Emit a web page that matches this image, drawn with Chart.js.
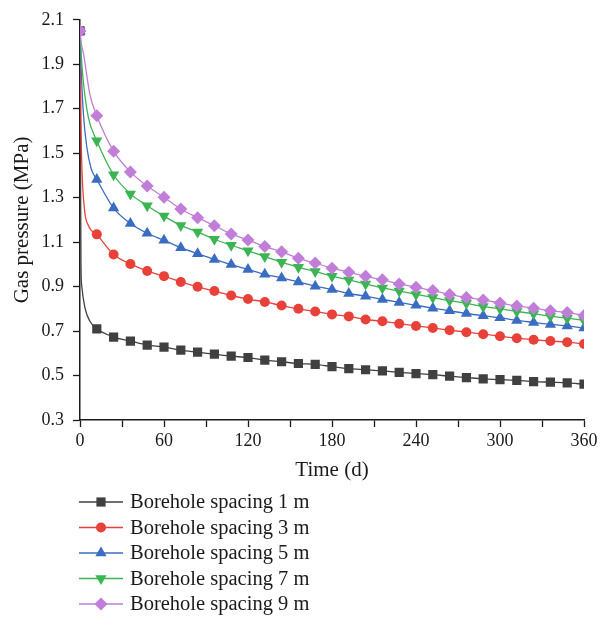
<!DOCTYPE html>
<html>
<head>
<meta charset="utf-8">
<script src="https://cdn.jsdelivr.net/npm/chart.js@4/dist/chart.umd.min.js"></script>
<style>
  html, body { margin: 0; padding: 0; background: #fff; }
  #wrap { width: 610px; height: 625px; }
</style>
</head>
<body>
<div id="wrap"><canvas id="pressureChart" width="610" height="625"></canvas></div>
<script>
// sampling days (markers every 12 d)
const days = [0, 12, 24, 36, 48, 60, 72, 84, 96, 108, 120, 132, 144, 156, 168, 180,
              192, 204, 216, 228, 240, 252, 264, 276, 288, 300, 312, 324, 336, 348, 360];

// gas pressure (MPa) per borehole spacing
const spacing1 = [2.05, 0.710, 0.673, 0.655, 0.637, 0.628, 0.614, 0.605, 0.596, 0.587, 0.581,
                  0.569, 0.562, 0.554, 0.550, 0.540, 0.531, 0.526, 0.521, 0.514, 0.509,
                  0.504, 0.497, 0.491, 0.485, 0.482, 0.478, 0.473, 0.470, 0.467, 0.461];
const spacing3 = [2.05, 1.135, 1.044, 1.002, 0.970, 0.947, 0.921, 0.899, 0.880, 0.860, 0.844,
                  0.831, 0.815, 0.800, 0.788, 0.775, 0.766, 0.752, 0.744, 0.733, 0.723,
                  0.714, 0.704, 0.695, 0.686, 0.677, 0.668, 0.661, 0.655, 0.650, 0.642];
const spacing5 = [2.05, 1.382, 1.253, 1.184, 1.140, 1.108, 1.075, 1.048, 1.022, 0.999, 0.977,
                  0.955, 0.939, 0.921, 0.902, 0.887, 0.869, 0.857, 0.842, 0.829, 0.816,
                  0.803, 0.791, 0.779, 0.769, 0.760, 0.748, 0.739, 0.730, 0.723, 0.714];
const spacing7 = [2.05, 1.556, 1.403, 1.317, 1.264, 1.217, 1.175, 1.146, 1.113, 1.086, 1.061,
                  1.035, 1.010, 0.987, 0.968, 0.947, 0.930, 0.912, 0.894, 0.880, 0.865,
                  0.851, 0.837, 0.825, 0.810, 0.800, 0.788, 0.778, 0.767, 0.758, 0.748];
const spacing9 = [2.05, 1.668, 1.509, 1.416, 1.352, 1.302, 1.249, 1.210, 1.174, 1.137, 1.110,
                  1.080, 1.057, 1.027, 1.006, 0.983, 0.965, 0.946, 0.931, 0.912, 0.897,
                  0.882, 0.865, 0.851, 0.840, 0.826, 0.813, 0.803, 0.791, 0.783, 0.770];

// extra curve points in the first days (no marker drawn)
const earlyDays1 = [0.7, 1.2, 3.6, 7.1];
const early1 = [0.996, 0.906, 0.803, 0.744];
const earlyDays3 = [0.5, 1, 3, 6];
const early3 = [1.75, 1.52, 1.26, 1.175];
const earlyDays5 = [1, 2.4, 4.8, 8];
const early5 = [1.85, 1.68, 1.53, 1.43];
const earlyDays7 = [1, 2.4, 6];
const early7 = [1.93, 1.82, 1.66];
const earlyDays9 = [1.2, 2.4, 7.1];
const early9 = [1.985, 1.95, 1.763];

const labels = ['Borehole spacing 1 m', 'Borehole spacing 3 m', 'Borehole spacing 5 m',
                'Borehole spacing 7 m', 'Borehole spacing 9 m'];

const SERIF = '"Liberation Serif", "DejaVu Serif", serif';

function buildPoints(values, eDays, eValues) {
    const pts = days.map((d, i) => ({ x: d, y: values[i], mark: true }));
    eDays.forEach((d, i) => pts.push({ x: d, y: eValues[i], mark: false }));
    return pts.sort((a, b) => a.x - b.x);
}

function series(label, values, eDays, eValues, color, style, radius, rotation, order) {
    return {
        label: label,
        data: buildPoints(values, eDays, eValues),
        order: order,
        borderColor: color,
        backgroundColor: color,
        pointBackgroundColor: color,
        pointBorderWidth: 0,
        borderWidth: 1.3,
        pointStyle: style,
        pointRotation: rotation || 0,
        pointRadius: ctx => (ctx.raw && ctx.raw.mark ? radius : 0),
        legendRadius: radius,
        cubicInterpolationMode: 'monotone'
    };
}

// hand-drawn legend below the plot: line + marker + label per row
const rowLegend = {
    id: 'rowLegend',
    afterDraw(chart) {
        const ctx = chart.ctx;
        ctx.save();
        chart.data.datasets.forEach((ds, i) => {
            const y = 502 + i * 25.5;
            ctx.strokeStyle = ds.borderColor;
            ctx.lineWidth = 1.3;
            ctx.beginPath();
            ctx.moveTo(79, y);
            ctx.lineTo(123, y);
            ctx.stroke();
            ctx.fillStyle = ds.pointBackgroundColor;
            Chart.helpers.drawPoint(ctx, {
                pointStyle: ds.pointStyle,
                rotation: ds.pointRotation,
                radius: ds.legendRadius,
                borderWidth: 0
            }, 101, y);
            ctx.fillStyle = '#1a1a1a';
            ctx.font = '20.5px ' + SERIF;
            ctx.textBaseline = 'middle';
            ctx.textAlign = 'left';
            ctx.fillText(ds.label, 130, y + 1);
        });
        ctx.restore();
    }
};

const chart = new Chart(document.getElementById('pressureChart').getContext('2d'), {
    type: 'line',
    data: {
        datasets: [
            series(labels[0], spacing1, earlyDays1, early1, '#404040', 'rect', 6.5, 0, 5),
            series(labels[1], spacing3, earlyDays3, early3, '#e8413a', 'circle', 5, 0, 4),
            series(labels[2], spacing5, earlyDays5, early5, '#3a6cc2', 'triangle', 6.5, 0, 3),
            series(labels[3], spacing7, earlyDays7, early7, '#3bb552', 'triangle', 6.5, 180, 2),
            series(labels[4], spacing9, earlyDays9, early9, '#c07ed8', 'rectRot', 6.5, 0, 1)
        ]
    },
    options: {
        responsive: false,
        devicePixelRatio: 1,
        animation: false,
        layout: {
            padding: { left: 6, right: 26, top: 14, bottom: 138 }
        },
        plugins: {
            legend: { display: false },
            tooltip: { enabled: false }
        },
        scales: {
            x: {
                type: 'linear',
                min: 0,
                max: 360,
                afterFit: scale => { scale.height = 67; },
                border: { color: '#1a1a1a', width: 1.5 },
                grid: {
                    drawOnChartArea: false,
                    drawTicks: true,
                    tickLength: 7,
                    tickColor: '#1a1a1a',
                    tickWidth: 1.3
                },
                ticks: {
                    stepSize: 30,
                    padding: 3,
                    color: '#1a1a1a',
                    font: { family: SERIF, size: 18 },
                    maxRotation: 0,
                    callback: v => (v % 60 === 0 ? String(v) : '')
                },
                title: {
                    display: true,
                    text: 'Time (d)',
                    color: '#1a1a1a',
                    font: { family: SERIF, size: 21 },
                    padding: { top: 4 }
                }
            },
            y: {
                min: 0.3,
                max: 2.1,
                afterFit: scale => { scale.width = 74; },
                border: { color: '#1a1a1a', width: 1.5 },
                grid: {
                    drawOnChartArea: false,
                    drawTicks: true,
                    tickLength: 7,
                    tickColor: '#1a1a1a',
                    tickWidth: 1.3
                },
                ticks: {
                    stepSize: 0.2,
                    padding: 9,
                    color: '#1a1a1a',
                    font: { family: SERIF, size: 18 },
                    callback: v => v.toFixed(1)
                },
                title: {
                    display: true,
                    text: 'Gas pressure (MPa)',
                    color: '#1a1a1a',
                    font: { family: SERIF, size: 21 },
                    padding: { top: 4, bottom: 0 }
                }
            }
        }
    },
    plugins: [rowLegend]
});
</script>
</body>
</html>
